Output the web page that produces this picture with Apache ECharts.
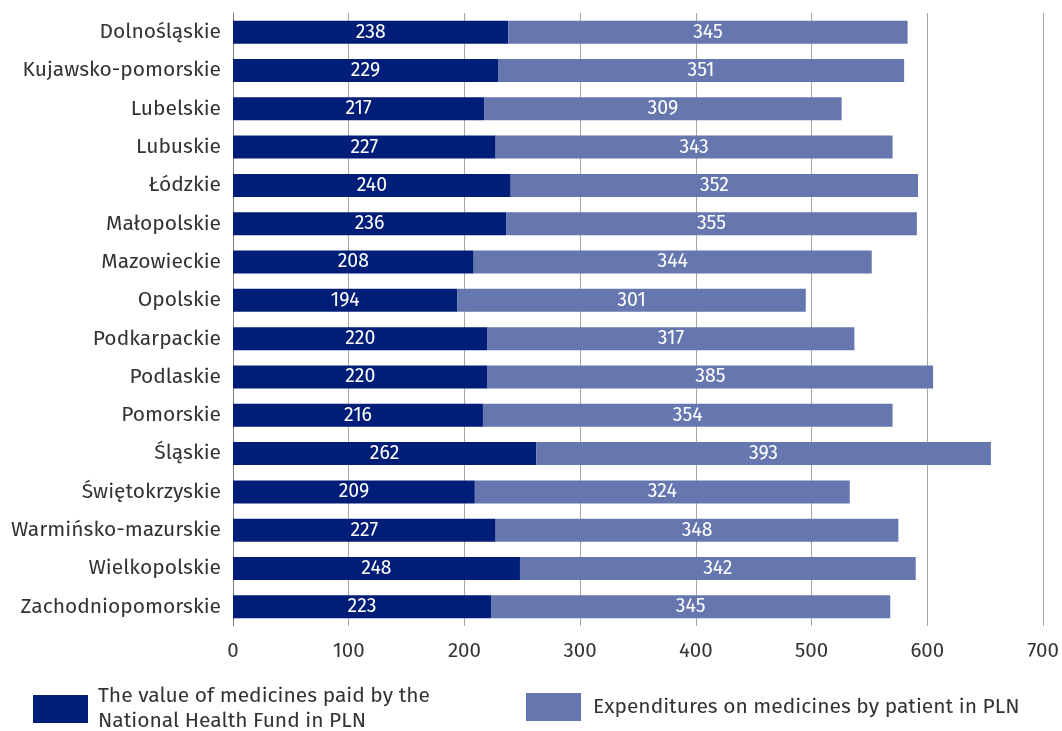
<!DOCTYPE html>
<html><head><meta charset="utf-8">
<script src="https://cdn.jsdelivr.net/npm/echarts@6/dist/echarts.min.js"></script>
<style>html,body{margin:0;padding:0;background:#fff}#c{width:1062px;height:731px}</style>
</head><body><div id="c"></div>
<script>
const categories = ["Dolnośląskie","Kujawsko-pomorskie","Lubelskie","Lubuskie","Łódzkie","Małopolskie","Mazowieckie","Opolskie","Podkarpackie","Podlaskie","Pomorskie","Śląskie","Świętokrzyskie","Warmińsko-mazurskie","Wielkopolskie","Zachodniopomorskie"];
const nfzValues = [238,229,217,227,240,236,208,194,220,220,216,262,209,227,248,223];
const patientValues = [345,351,309,343,352,355,344,301,317,385,354,393,324,348,342,345];
const seriesNames = ["The value of medicines paid by the\nNational Health Fund in PLN","Expenditures on medicines by patient in PLN"];
const xTicks = [0,100,200,300,400,500,600,700];

const font = "'Fira Sans','Open Sans','Noto Sans',sans-serif";
const chart = echarts.init(document.getElementById('c'));
chart.setOption({
  animation:false,
  textStyle:{fontFamily:font},
  grid:{left:233,right:19,top:13,bottom:105,containLabel:false},
  xAxis:{type:'value',min:xTicks[0],max:xTicks[xTicks.length-1],interval:100,
    axisLine:{show:false},axisTick:{show:false},
    axisLabel:{color:'#333',fontSize:20.5,fontFamily:font,margin:15},
    splitLine:{lineStyle:{color:'#a6a6a6',width:1}}},
  yAxis:{type:'category',data:categories,inverse:true,
    axisLine:{lineStyle:{color:'#7f7f7f',width:1}},axisTick:{show:false},
    axisLabel:{color:'#333',fontSize:21,fontFamily:font,margin:12}},
  legend:[
    {data:[seriesNames[0]],left:28,top:677,itemWidth:55,itemHeight:28,icon:'rect',itemGap:0,
     textStyle:{fontSize:21,color:'#333',fontFamily:font,lineHeight:25,padding:[4,0,0,5]}},
    {data:[seriesNames[1]],left:521,top:688,itemWidth:55,itemHeight:28,icon:'rect',
     textStyle:{fontSize:21,color:'#333',fontFamily:font,padding:[2,0,0,7]}}
  ],
  series:[
    {name:seriesNames[0],type:'bar',stack:'t',data:nfzValues,barWidth:'60%',
     itemStyle:{color:'#001e78'},
     label:{show:true,position:'inside',color:'#fff',fontSize:19.5,fontFamily:font}},
    {name:seriesNames[1],type:'bar',stack:'t',data:patientValues,barWidth:'60%',
     itemStyle:{color:'#6577ae'},
     label:{show:true,position:'inside',color:'#fff',fontSize:19.5,fontFamily:font}}
  ]
});
</script></body></html>
